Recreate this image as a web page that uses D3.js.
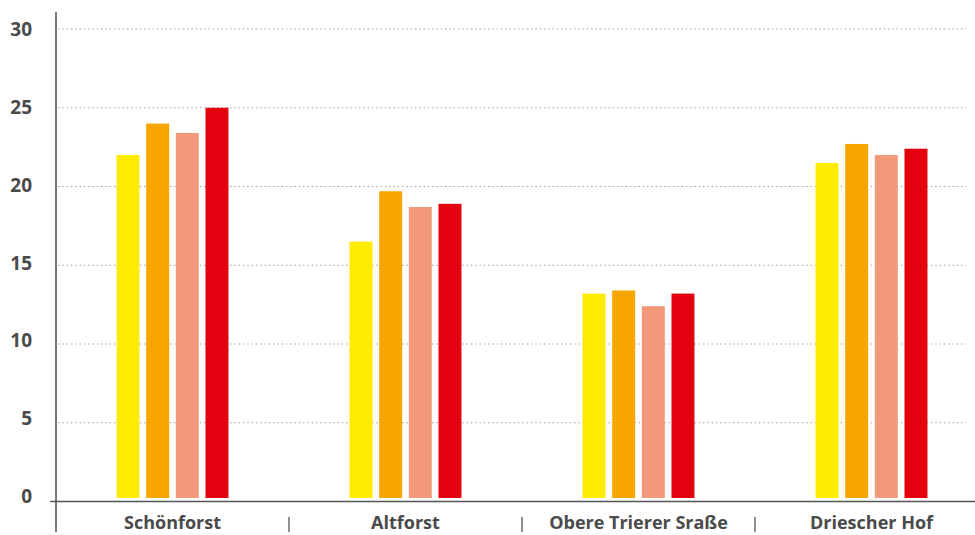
<!DOCTYPE html>
<html lang="de">
<head>
    <meta charset="UTF-8">
    <title>Balkendiagramm</title>
    <script src="https://d3js.org/d3.v7.min.js"></script>
    <style>
        body { margin: 0; background: #fff; }
        text { font-family: "Open Sans", "Noto Sans", sans-serif; font-weight: 700; fill: #4a4a4a; }
    </style>
</head>
<body>
<div id="chart"></div>
<script>
    // Daten
    const categories = ["Schönforst", "Altforst", "Obere Trierer Sraße", "Driescher Hof"];
    const series = ["s1", "s2", "s3", "s4"];
    const colors = ["#FFEC00", "#F7A600", "#F2997B", "#E3000F"];
    const values = [
        [22.0, 24.0, 23.4, 25.0],
        [16.5, 19.7, 18.7, 18.9],
        [13.2, 13.4, 12.4, 13.2],
        [21.5, 22.7, 22.0, 22.4]
    ];
    const yTicks = [0, 5, 10, 15, 20, 25, 30];

    const width = 975, height = 535;
    const x0 = 56, x1 = 988, yBase = 501.5, yTop = 29;

    const svg = d3.select("#chart").append("svg")
        .attr("width", width)
        .attr("height", height);

    const x = d3.scaleBand().domain(categories).range([x0, x1]);
    const xi = d3.scaleBand().domain(series)
        .range([-59.3, 59.3])
        .paddingInner(0.225)
        .paddingOuter(0.1125);
    const y = d3.scaleLinear().domain([0, 30]).range([yBase, yTop]);

    // Gitterlinien
    svg.append("g")
        .selectAll("line")
        .data(yTicks.filter(d => d > 0))
        .join("line")
        .attr("x1", x0 + 2)
        .attr("x2", 966)
        .attr("y1", d => y(d))
        .attr("y2", d => y(d))
        .attr("stroke", "#a0a0a0")
        .attr("stroke-width", 1.2)
        .attr("stroke-dasharray", "1.5,2.8");

    // y-Beschriftung (im Original leicht nach oben versetzt)
    svg.append("g")
        .selectAll("text")
        .data(yTicks)
        .join("text")
        .attr("x", 32)
        .attr("y", d => y(d) - (30 - d) * 0.17)
        .attr("dy", "0.36em")
        .attr("text-anchor", "end")
        .attr("font-size", 19)
        .text(d => d);

    // Balken
    const groups = svg.append("g")
        .selectAll("g")
        .data(categories)
        .join("g")
        .attr("transform", d => `translate(${x(d) + x.bandwidth() / 2},0)`);

    groups.selectAll("rect")
        .data((d, i) => values[i].map((v, j) => ({ key: series[j], value: v, color: colors[j] })))
        .join("rect")
        .attr("x", d => xi(d.key))
        .attr("width", xi.bandwidth())
        .attr("y", d => y(d.value))
        .attr("height", d => y(0) - 3.5 - y(d.value))
        .attr("fill", d => d.color);

    // Achsen
    svg.append("line")
        .attr("x1", 50).attr("x2", width)
        .attr("y1", yBase).attr("y2", yBase)
        .attr("stroke", "#555").attr("stroke-width", 1.6);

    svg.append("line")
        .attr("x1", x0).attr("x2", x0)
        .attr("y1", 12).attr("y2", 532)
        .attr("stroke", "#555").attr("stroke-width", 1.6);

    // Trennstriche zwischen Kategorien
    svg.append("g")
        .selectAll("line")
        .data(categories.slice(1))
        .join("line")
        .attr("x1", d => x(d))
        .attr("x2", d => x(d))
        .attr("y1", 517)
        .attr("y2", 532)
        .attr("stroke", "#444")
        .attr("stroke-width", 1.2);

    // Kategorienamen
    svg.append("g")
        .selectAll("text")
        .data(categories)
        .join("text")
        .attr("x", d => x(d) + x.bandwidth() / 2)
        .attr("y", 523)
        .attr("dy", "0.36em")
        .attr("text-anchor", "middle")
        .attr("font-size", 18)
        .text(d => d);
</script>
</body>
</html>
